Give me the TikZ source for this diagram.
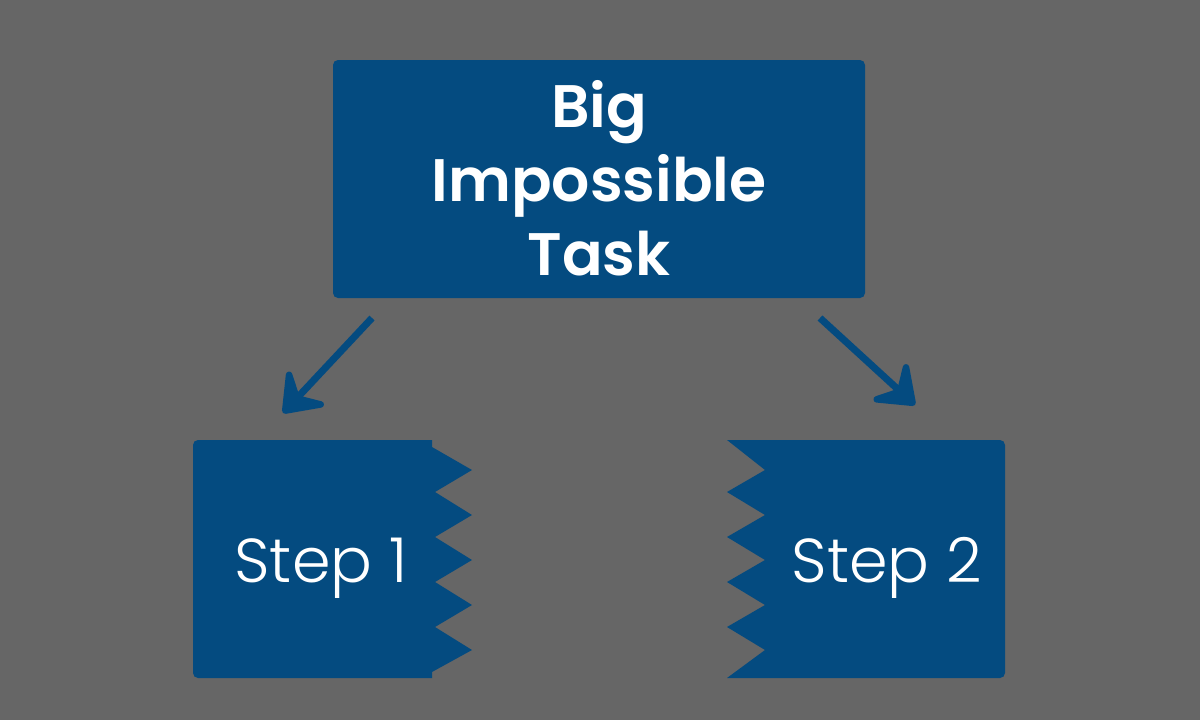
\documentclass[tikz,border=0pt]{standalone}
\usepackage{fontspec}
\setmainfont{Poppins}
\newfontfamily\lightfont{Poppins}[UprightFont=* Light]
\newfontfamily\semifont{Poppins}[UprightFont=* SemiBold]
\usetikzlibrary{arrows.meta}
\definecolor{bg}{HTML}{666666}
\definecolor{blu}{HTML}{044B80}
\tikzset{
  blk/.style={fill=blu},
  arr/.style={draw=blu,line width=7pt,-{Stealth[length=44pt,width=66pt,inset=18pt,round]}},
  big/.style={text=white,font=\semifont\fontsize{60}{74}\selectfont,align=center},
  steptxt/.style={text=white,font=\lightfont\fontsize{62}{68}\selectfont}
}
\begin{document}
\begin{tikzpicture}[x=1pt,y=-1pt]
\fill[bg] (0,0) rectangle (1200,720);
\useasboundingbox (0,0) rectangle (1200,720);
\fill[blk,rounded corners=5pt] (333,60) rectangle (865,298);
\node[big] (top) at (599,178) {Big\\Impossible\\Task};
% step 1
\fill[blk] (432,440) [rounded corners=5pt]-- (193,440) -- (193,678) [sharp corners]-- (432,678)
  -- (432,672) -- (472,650) -- (435,627) -- (472,605) -- (435,582) -- (472,560)
  -- (435,537) -- (472,515) -- (435,492) -- (472,470) -- (432,447) -- cycle;
\node[steptxt] (s1) at (321,568) {Step 1};
% step 2
\fill[blk] (727,440) [rounded corners=5pt]-- (1005,440) -- (1005,678) [sharp corners]-- (727,678)
  -- (765,650) -- (727,627) -- (765,605) -- (727,582) -- (765,560)
  -- (727,537) -- (765,515) -- (727,492) -- (765,470) -- cycle;
\node[steptxt] (s2) at (887,568) {Step 2};
\coordinate (a1) at (372,318); \coordinate (b1) at (283,413);
\coordinate (a2) at (820,318); \coordinate (b2) at (915,405);
\draw[arr] (a1) -- (b1);
\draw[arr] (a2) -- (b2);
\end{tikzpicture}
\end{document}
